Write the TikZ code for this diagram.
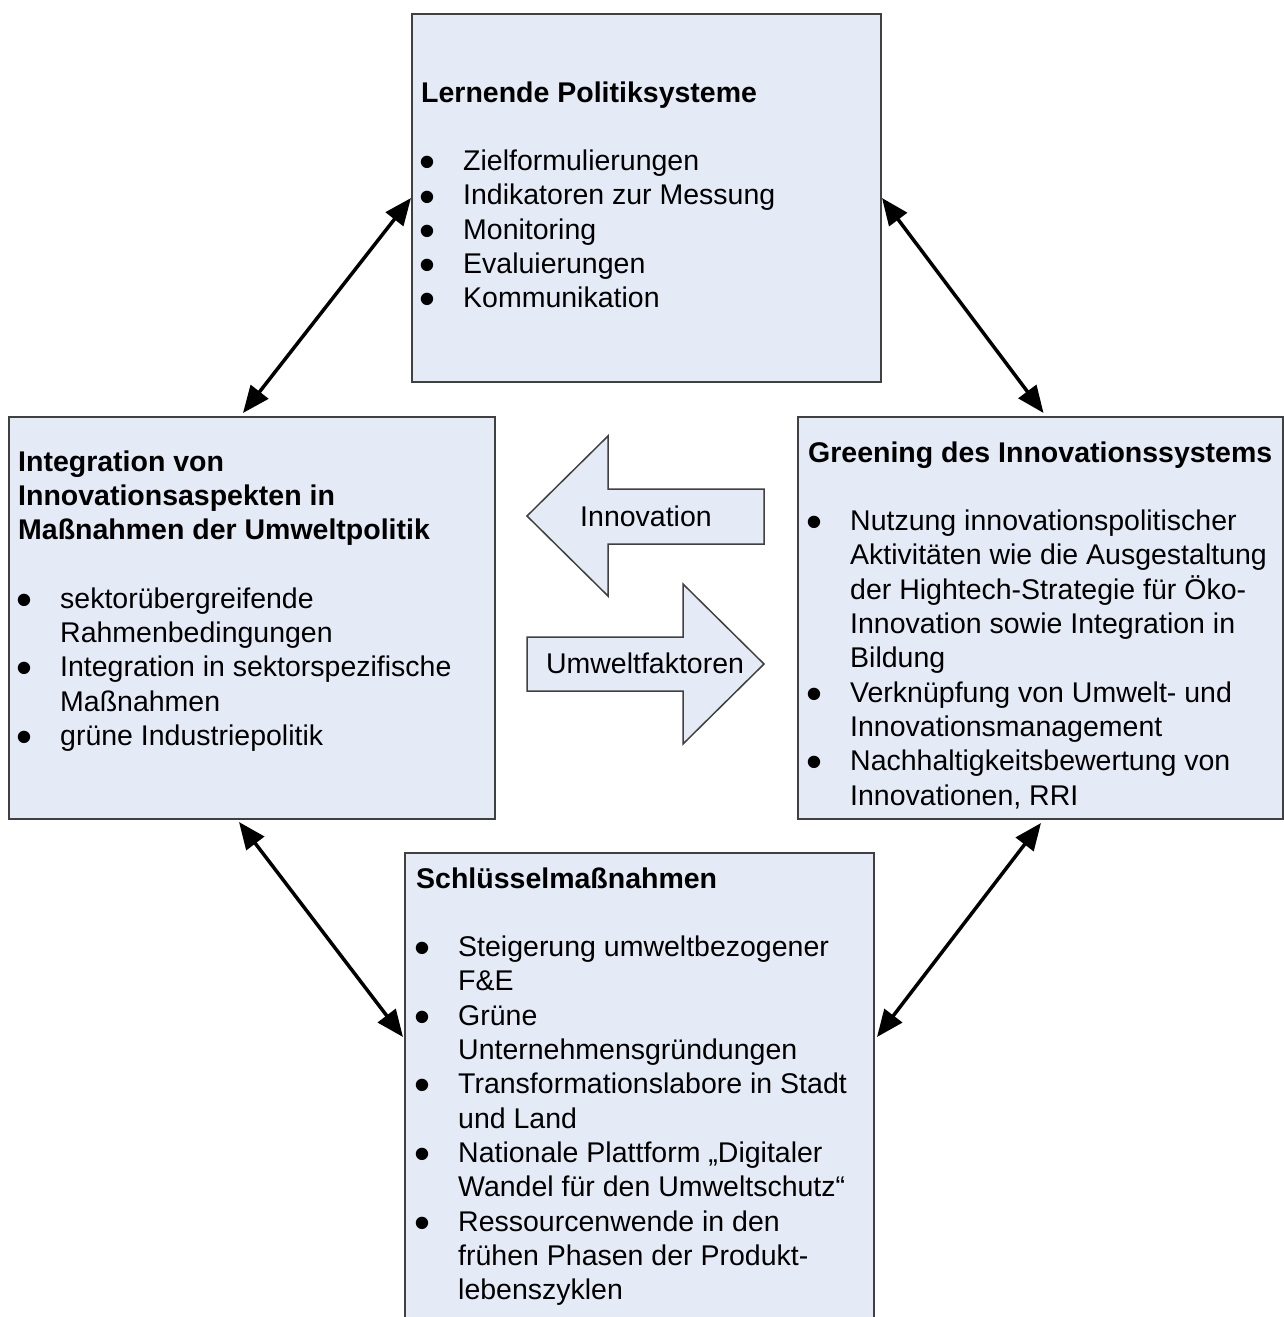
\documentclass[tikz,border=0pt]{standalone}
\usepackage{fontspec}
\setmainfont{Liberation Sans}
\usetikzlibrary{arrows.meta,calc}

\definecolor{boxfill}{HTML}{E5EBF6}
\definecolor{boxline}{HTML}{404040}

% list bullet, a little larger than the font's own
\newcommand{\bul}{\hspace*{-2pt}\raisebox{-0.25em}[0pt][0pt]{\scalebox{1.6}{\textbullet}}}
\newcommand{\head}[1]{\multicolumn{2}{@{}l@{}}{\bfseries #1}}

\tikzset{
  panel/.style={draw=boxline, fill=boxfill, line width=2pt, inner sep=0pt, anchor=north west},
  paneltext/.style={anchor=base west, inner sep=0pt, font=\fontsize{28.5}{34.3}\selectfont},
  link/.style={{Triangle[length=27pt,width=22pt]}-{Triangle[length=27pt,width=22pt]}, line width=3.5pt},
  flow/.style={draw=boxline, fill=boxfill, line width=1.5pt, line join=miter},
  flowtext/.style={inner sep=0pt, font=\fontsize{28.5}{34.3}\selectfont},
}

\begin{document}
\begin{tikzpicture}[x=1pt, y=-1pt]
\useasboundingbox (0,0) rectangle (1283,1317);

% the four panels
\node[panel, minimum width=469pt, minimum height=368pt] (T) at (411,13) {};
\node[panel, minimum width=486pt, minimum height=402pt] (L) at (8,416) {};
\node[panel, minimum width=485pt, minimum height=402pt] (R) at (797,416) {};
\node[panel, minimum width=469pt, minimum height=480pt] (B) at (404,852) {};

% panel contents
\node[paneltext] (Ttext) at (421,102) {\begin{tabular}[t]{@{}p{42pt}@{}l@{}}
\head{Lernende Politiksysteme}\\
\\
\bul & Zielformulierungen\\
\bul & Indikatoren zur Messung\\
\bul & Monitoring\\
\bul & Evaluierungen\\
\bul & Kommunikation
\end{tabular}};

\node[paneltext] (Ltext) at (18,471) {\begin{tabular}[t]{@{}p{42pt}@{}l@{}}
\head{Integration von}\\
\head{Innovationsaspekten in}\\
\head{Maßnahmen der Umweltpolitik}\\
\\
\bul & sektorübergreifende\\
 & Rahmenbedingungen\\
\bul & Integration in sektorspezifische\\
 & Maßnahmen\\
\bul & grüne Industriepolitik
\end{tabular}};

\node[paneltext] (Rtext) at (808,462) {\begin{tabular}[t]{@{}p{42pt}@{}l@{}}
\head{Greening des Innovationssystems}\\
\\
\bul & Nutzung innovationspolitischer\\
 & Aktivitäten wie die Ausgestaltung\\
 & der Hightech-Strategie für Öko-\\
 & Innovation sowie Integration in\\
 & Bildung\\
\bul & Verknüpfung von Umwelt- und\\
 & Innovationsmanagement\\
\bul & Nachhaltigkeitsbewertung von\\
 & Innovationen, RRI
\end{tabular}};

\node[paneltext] (Btext) at (416,888) {\begin{tabular}[t]{@{}p{42pt}@{}l@{}}
\head{Schlüsselmaßnahmen}\\
\\
\bul & Steigerung umweltbezogener\\
 & F\&E\\
\bul & Grüne\\
 & Unternehmensgründungen\\
\bul & Transformationslabore in Stadt\\
 & und Land\\
\bul & Nationale Plattform „Digitaler\\
 & Wandel für den Umweltschutz“\\
\bul & Ressourcenwende in den\\
 & frühen Phasen der Produkt-\\
 & lebenszyklen
\end{tabular}};

% double-headed links between the panels
\draw[link] ($(L.north)+(-9,-3)$) -- (T.west);
\draw[link] (T.east) -- ($(R.north)+(3,-3)$);
\draw[link] ($(L.south)+(-13,2)$) -- ($(B.north west)+(-1,185)$);
\draw[link] ($(R.south)+(0.5,3)$) -- ($(B.north east)+(2,185)$);

% block arrows in the middle
\draw[flow] (764,489) -- (608,489) -- (608,436) -- (527,516) -- (608,596)
  -- (608,544) -- (764,544) -- cycle;
\node[flowtext] (inno) at (646,516) {Innovation};

\draw[flow] (527,637) -- (683,637) -- (683,584) -- (764,664) -- (683,744)
  -- (683,691) -- (527,691) -- cycle;
\node[flowtext] (umwelt) at (645,663) {Umweltfaktoren};
\end{tikzpicture}
\end{document}
